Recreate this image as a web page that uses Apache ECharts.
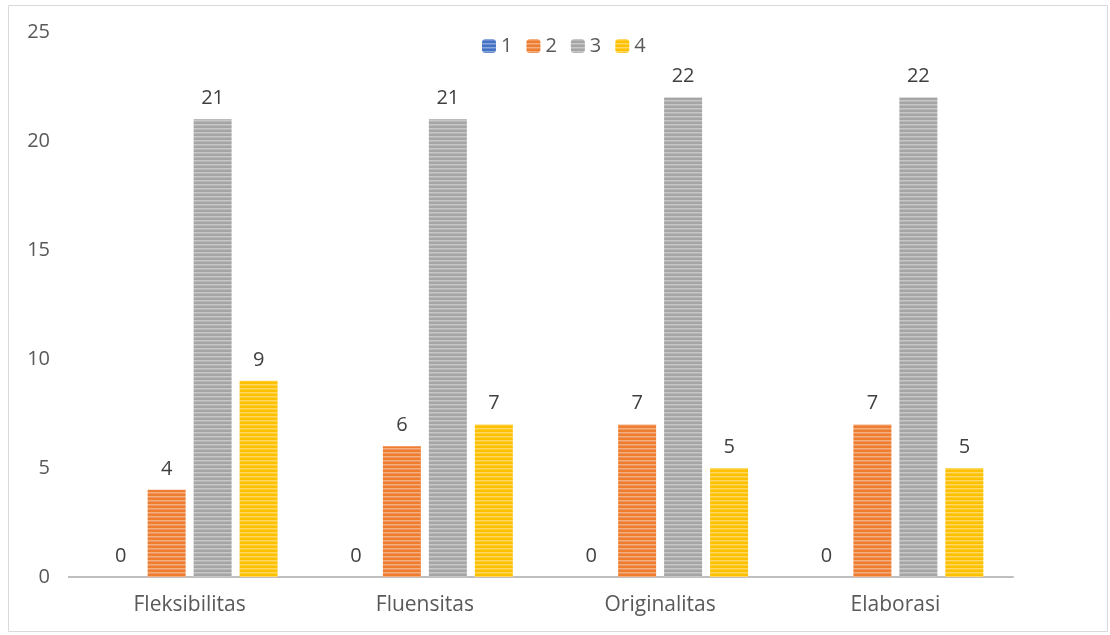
<!DOCTYPE html>
<html>
<head>
<meta charset="utf-8">
<script src="https://cdn.jsdelivr.net/npm/echarts@6/dist/echarts.min.js"></script>
<style>
  html, body { margin: 0; padding: 0; background: #fff; }
  #chart { width: 1110px; height: 635px; }
</style>
</head>
<body>
<div id="chart"></div>
<script>
// Chart data
const categories = ['Fleksibilitas', 'Fluensitas', 'Originalitas', 'Elaborasi'];
const seriesNames = ['1', '2', '3', '4'];
const values1 = [0, 0, 0, 0];
const values2 = [4, 6, 7, 7];
const values3 = [21, 21, 22, 22];
const values4 = [9, 7, 5, 5];
const yTicks = [0, 5, 10, 15, 20, 25];

const allValues = [values1, values2, values3, values4];
const baseColors = ['#4472C4', '#ED7D31', '#A5A5A5', '#FFC000'];

// Horizontal striped fill: base colour with lighter thin lines
function stripes(color) {
  const c = document.createElement('canvas');
  c.width = 8; c.height = 4;
  const ctx = c.getContext('2d');
  ctx.fillStyle = color;
  ctx.fillRect(0, 0, 8, 4);
  ctx.fillStyle = 'rgba(255,255,255,0.38)';
  ctx.fillRect(0, 0, 8, 1.5);
  return { image: c, repeat: 'repeat' };
}

const chart = echarts.init(document.getElementById('chart'));
const textColor = '#595959';
const font = '"Open Sans", "Noto Sans", sans-serif';

chart.setOption({
  animation: false,
  textStyle: { fontFamily: font },
  graphic: [{
    type: 'rect',
    shape: { x: 8.5, y: 5.5, width: 1099, height: 626 },
    style: { fill: 'none', stroke: '#d9d9d9', lineWidth: 1 },
    silent: true
  }, {
    // axis baseline extends slightly left of the first category band
    type: 'line',
    shape: { x1: 68, y1: 577, x2: 73, y2: 577 },
    style: { stroke: '#bfbfbf', lineWidth: 2 },
    silent: true
  }],
  legend: {
    top: 31,
    left: 477,
    itemWidth: 14,
    itemHeight: 14,
    itemGap: 14,
    textStyle: { color: textColor, fontSize: 20, fontFamily: font },
    data: seriesNames
  },
  grid: { left: 72, right: 97, top: 32, bottom: 58 },
  xAxis: {
    type: 'category',
    data: categories,
    axisLine: { lineStyle: { color: '#bfbfbf', width: 2 } },
    axisTick: { show: false },
    axisLabel: { color: textColor, fontSize: 21, margin: 18, fontFamily: font }
  },
  yAxis: {
    type: 'value',
    min: yTicks[0],
    max: yTicks[yTicks.length - 1],
    interval: 5,
    splitLine: { show: false },
    axisLine: { show: false },
    axisTick: { show: false },
    axisLabel: { color: textColor, fontSize: 20, margin: 22, fontFamily: font }
  },
  series: seriesNames.map((name, i) => ({
    name: name,
    type: 'bar',
    data: allValues[i],
    barWidth: 38,
    barGap: '21%',
    itemStyle: { color: stripes(baseColors[i]) },
    label: {
      show: true,
      position: 'top',
      distance: 11,
      color: '#404040',
      fontSize: 20,
      fontFamily: font
    }
  }))
});
</script>
</body>
</html>
